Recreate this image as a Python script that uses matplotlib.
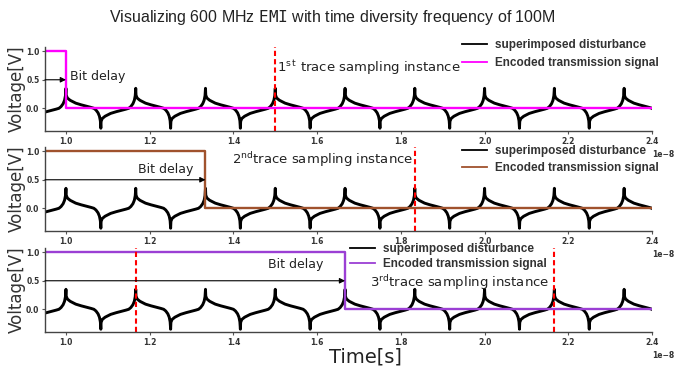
import numpy as np
import matplotlib
matplotlib.use('Agg')
import matplotlib.pyplot as plt

# EMI: 600 MHz, times on the x axis are in units of 1e-8 s
emi_freq = 600e6
period = 1 / emi_freq
t_start, t_end = 0.95, 2.4

# one disturbance cycle, starting at a peak (phase = fraction of a period)
cycle_phase = [0.0, 0.004, 0.02, 0.06, 0.14, 0.22, 0.30, 0.36, 0.40, 0.43, 0.46, 0.48, 0.493,
               0.5, 0.504, 0.52, 0.56, 0.64, 0.72, 0.80, 0.86, 0.90, 0.93, 0.96, 0.98, 0.993]
cycle_volt = [0.35, 0.23, 0.18, 0.14, 0.09, 0.06, 0.035, 0.015, 0.0, -0.03, -0.08, -0.14, -0.22,
              -0.35, -0.23, -0.18, -0.14, -0.09, -0.06, -0.035, -0.015, 0.0, 0.03, 0.08, 0.14, 0.22]
peak_times = [0.8333, 1.0, 1.1667, 1.3333, 1.5, 1.6667, 1.8333, 2.0, 2.1667, 2.3333]

# encoded signal: high (1 V) until the bit edge, then 0 V
bit_fall = [1.0, 1.3333, 1.6667]
sample_times = [[1.5], [1.8333], [1.1667, 2.1667]]
trace_labels = ['1$^{\\rm s\\,t}$ trace sampling instance',
                '2$^{\\rm nd}$trace sampling instance',
                '3$^{\\rm rd}$trace sampling instance']
x_ticks = [1.0, 1.2, 1.4, 1.6, 1.8, 2.0, 2.2, 2.4]
y_ticks = [0.0, 0.5, 1.0]

emi_t = np.concatenate([p * 1e-8 + np.array(cycle_phase) * period for p in peak_times])
emi_v = np.tile(cycle_volt, len(peak_times))

signal_colors = ['#ff00ff', '#a0522d', '#9b3fd4']
bottoms = [0.6476, 0.3788, 0.1073]
bit_pos = [(1.01, 0.55), (1.172, 0.68), (1.483, 0.78)]
trace_pos = [(1.504, 0.71), (1.397, 0.85), (1.726, 0.47)]
legend_pos = [(462, 39), (462, 145), (350, 243)]
legend_spacing = [0.5, 0.4, 0.25]

fig = plt.figure(figsize=(6.75, 3.72), dpi=100)
plt.rcParams['font.family'] = 'DejaVu Sans'

for i in range(3):
    ax = fig.add_axes([0.0667, bottoms[i], 0.8993, 0.2269])
    ax.plot(emi_t, emi_v, color='black', lw=2.1, label='superimposed disturbance')
    ax.plot([t_start * 1e-8, bit_fall[i] * 1e-8, t_end * 1e-8], [1, 0, 0], drawstyle='steps-post',
            color=signal_colors[i], lw=1.7, label='Encoded transmission signal')
    for s in sample_times[i]:
        ax.axvline(s * 1e-8, color='red', ls=(0, (2.5, 1.5)), lw=1.5)

    ax.set_xlim(t_start * 1e-8, t_end * 1e-8)
    ax.set_ylim(-0.4, 1.08)
    ax.set_xticks(np.array(x_ticks) * 1e-8)
    ax.set_yticks(y_ticks)
    for side in ['top', 'right']:
        ax.spines[side].set_visible(False)
    for side in ['left', 'bottom']:
        ax.spines[side].set_color('#444444')
        ax.spines[side].set_linewidth(1.0)
    ax.tick_params(labelsize=5.5, length=2.5, width=0.8, color='#555555', labelcolor='#333333', pad=1.5)
    for lab in ax.get_xticklabels() + ax.get_yticklabels():
        lab.set_fontweight('bold')
    off = ax.xaxis.get_offset_text()
    off.set_fontsize(5.5)
    off.set_fontweight('bold')
    off.set_horizontalalignment('left')

    ax.set_ylabel('Voltage[V]', fontsize=12, color='#333333')
    ax.yaxis.set_label_coords(-0.031, 0.5)

    ax.annotate('', xy=(bit_fall[i] * 1e-8, 0.5), xytext=(t_start * 1e-8, 0.5),
                arrowprops=dict(arrowstyle='-|>', color='black', lw=0.8,
                                shrinkA=0, shrinkB=0, mutation_scale=8))
    ax.text(bit_pos[i][0] * 1e-8, bit_pos[i][1], 'Bit delay', fontsize=9, va='center', color='#222222')
    ax.text(trace_pos[i][0] * 1e-8, trace_pos[i][1], trace_labels[i], fontsize=9.5, va='center',
            color='#222222')

    leg = ax.legend(loc='upper left', bbox_to_anchor=(legend_pos[i][0] / 675, 1 - legend_pos[i][1] / 372),
                    bbox_transform=fig.transFigure, frameon=False, borderpad=0, borderaxespad=0,
                    handlelength=2.1, handletextpad=0.7, labelspacing=legend_spacing[i],
                    prop={'family': 'Liberation Sans', 'weight': 'bold', 'size': 8.5})
    for txt in leg.get_texts():
        txt.set_color('#333333')
    for ln in leg.get_lines():
        ln.set_linewidth(1.3)

fig.text(0.4926, 0.953, 'Visualizing 600 MHz $\\mathtt{EMI}$ with time diversity frequency of 100M',
         ha='center', va='center', fontsize=11.5, family='Liberation Sans', color='#222222')
fig.text(365 / 675, 1 - 357 / 372, 'Time[s]', ha='center', va='center', fontsize=14, color='#222222')

fig.savefig('out.png', dpi=100)
